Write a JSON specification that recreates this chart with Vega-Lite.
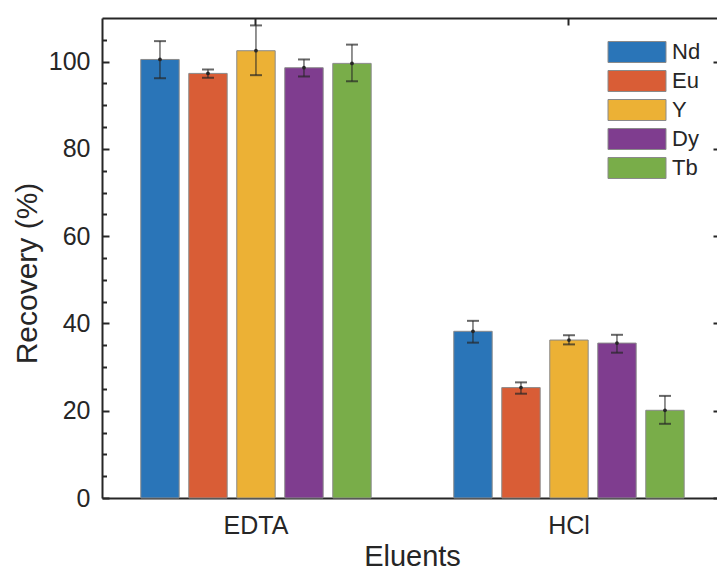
{
  "$schema": "https://vega.github.io/schema/vega-lite/v6.json",
  "width": 615,
  "height": 480,
  "autosize": {"type": "none"},
  "padding": {"left": 102, "top": 18, "right": 0, "bottom": 72},
  "background": "white",
  "data": {
    "values": [
      {"eluent": "EDTA", "element": "Nd", "value": 100.5, "lo": 96.2, "hi": 104.7},
      {"eluent": "EDTA", "element": "Eu", "value": 97.3, "lo": 96.3, "hi": 98.2},
      {"eluent": "EDTA", "element": "Y", "value": 102.5, "lo": 96.9, "hi": 108.3},
      {"eluent": "EDTA", "element": "Dy", "value": 98.6, "lo": 96.6, "hi": 100.5},
      {"eluent": "EDTA", "element": "Tb", "value": 99.6, "lo": 95.5, "hi": 103.9},
      {"eluent": "HCl", "element": "Nd", "value": 38.2, "lo": 35.6, "hi": 40.6},
      {"eluent": "HCl", "element": "Eu", "value": 25.3, "lo": 23.9, "hi": 26.5},
      {"eluent": "HCl", "element": "Y", "value": 36.2, "lo": 35.2, "hi": 37.3},
      {"eluent": "HCl", "element": "Dy", "value": 35.5, "lo": 33.3, "hi": 37.4},
      {"eluent": "HCl", "element": "Tb", "value": 20.1, "lo": 17.0, "hi": 23.4}
    ]
  },
  "encoding": {
    "x": {
      "field": "eluent",
      "type": "nominal",
      "sort": ["EDTA", "HCl"],
      "scale": {"paddingInner": 0.23323, "paddingOuter": 0.09905, "align": 0.548}
    },
    "xOffset": {
      "field": "element",
      "type": "nominal",
      "sort": ["Nd", "Eu", "Y", "Dy", "Tb"],
      "scale": {"paddingInner": 0.2, "paddingOuter": 0.1}
    }
  },
  "layer": [
    {
      "mark": {"type": "bar", "stroke": "#8a8a8a", "strokeWidth": 1},
      "encoding": {
        "x": {
          "field": "eluent",
          "type": "nominal",
          "sort": ["EDTA", "HCl"],
          "axis": {
            "orient": "bottom",
            "title": "Eluents",
            "labelAngle": 0,
            "tickSize": -7,
            "labelPadding": 22,
            "titleX": 310,
            "titleY": 67,
            "titleAnchor": null,
            "titleAlign": "center",
            "titleBaseline": "alphabetic"
          }
        },
        "y": {
          "field": "value",
          "type": "quantitative",
          "scale": {"domain": [0, 110], "nice": false},
          "axis": {
            "orient": "left",
            "title": "Recovery (%)",
            "titleFontSize": 30,
            "values": [0, 20, 40, 60, 80, 100],
            "tickSize": -7,
            "labelPadding": 19,
            "titleX": -75,
            "titleY": 255,
            "titleAlign": "center",
            "titleBaseline": "middle",
            "titleAngle": -90
          }
        },
        "color": {
          "field": "element",
          "type": "nominal",
          "scale": {
            "domain": ["Nd", "Eu", "Y", "Dy", "Tb"],
            "range": ["#2a75b8", "#d95d36", "#ecb135", "#7f3d8f", "#79ad49"]
          },
          "legend": {
            "title": null,
            "orient": "none",
            "legendX": 524,
            "legendY": 23,
            "padding": 0,
            "symbolType": "M-2.9,-1.05H2.9V1.05H-2.9Z",
            "symbolSize": 400,
            "symbolStrokeColor": "#8a8a8a",
            "symbolStrokeWidth": 1,
            "symbolOpacity": 1,
            "labelFont": "Liberation Sans",
            "labelFontSize": 22,
            "labelColor": "#262626",
            "labelOffset": 24,
            "rowPadding": 3
          }
        }
      }
    },
    {
      "mark": {"type": "rule", "color": "#262626", "strokeWidth": 1},
      "encoding": {
        "x": {
          "field": "eluent",
          "type": "nominal",
          "sort": ["EDTA", "HCl"],
          "axis": {"orient": "top", "labels": false, "title": null, "tickSize": -7}
        },
        "y": {
          "field": "lo",
          "type": "quantitative",
          "axis": {
            "orient": "left",
            "values": [5, 10, 15, 25, 30, 35, 45, 50, 55, 65, 70, 75, 85, 90, 95, 105],
            "labels": false,
            "domain": false,
            "title": null,
            "tickSize": -4.5
          }
        },
        "y2": {"field": "hi"}
      }
    },
    {
      "mark": {"type": "tick", "color": "#262626", "size": 12, "thickness": 2},
      "encoding": {
        "x": {"field": "eluent", "type": "nominal", "sort": ["EDTA", "HCl"], "axis": null},
        "y": {
          "field": "lo",
          "type": "quantitative",
          "axis": {
            "orient": "right",
            "values": [0, 20, 40, 60, 80, 100],
            "labels": false,
            "domain": false,
            "title": null,
            "tickSize": -4
          }
        }
      }
    },
    {
      "mark": {"type": "tick", "color": "#262626", "size": 12, "thickness": 2},
      "encoding": {
        "x": {"field": "eluent", "type": "nominal", "sort": ["EDTA", "HCl"], "axis": null},
        "y": {"field": "hi", "type": "quantitative", "axis": null}
      }
    },
    {
      "mark": {"type": "point", "filled": true, "color": "#262626", "size": 14, "opacity": 1},
      "encoding": {
        "x": {"field": "eluent", "type": "nominal", "sort": ["EDTA", "HCl"], "axis": null},
        "y": {"field": "value", "type": "quantitative", "axis": null}
      }
    }
  ],
  "resolve": {"axis": {"x": "independent", "y": "independent"}},
  "config": {
    "view": {"stroke": null},
    "axis": {
      "grid": false,
      "domainColor": "#262626",
      "domainWidth": 2,
      "tickColor": "#262626",
      "tickWidth": 2,
      "labelFont": "Liberation Sans",
      "labelFontSize": 25,
      "labelColor": "#262626",
      "titleFont": "Liberation Sans",
      "titleFontSize": 29,
      "titleColor": "#262626",
      "titleFontWeight": "normal"
    }
  }
}
